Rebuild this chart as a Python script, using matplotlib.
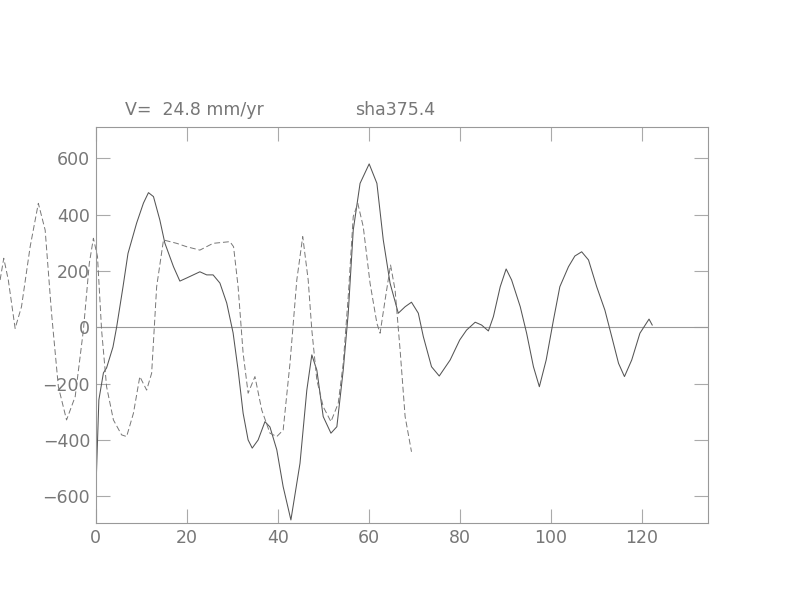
import numpy as np
import matplotlib.pyplot as plt

# solid profile (distance, value)
solid_x = [0, 0.7, 1.7, 2.4, 3.8, 4.6, 6.0, 7.1, 9.0, 10.5, 11.6, 12.7, 14.1, 15.2, 17.1,
           18.5, 20.0, 22.9, 24.4, 25.8, 27.3, 28.8, 30.2, 31.3, 32.4, 33.5, 34.4, 35.7,
           37.2, 38.3, 39.8, 41.2, 42.9, 44.9, 46.4, 47.5, 48.6, 50.0, 51.7, 53.0, 54.4,
           55.5, 56.6, 58.1, 60.1, 61.8, 63.2, 64.7, 66.5, 68.0, 69.4, 70.9, 72.0, 73.8,
           75.5, 77.9, 80.0, 81.5, 83.4, 84.8, 86.3, 87.4, 88.9, 90.2, 91.4, 93.3, 94.7,
           96.2, 97.5, 99.0, 100.6, 102.0, 103.9, 105.3, 106.8, 108.3, 110.1, 111.9,
           113.4, 114.9, 116.2, 117.8, 119.6, 121.6, 122.3]
solid_y = [-602, -258, -162, -144, -70, 0, 143, 262, 370, 441, 478, 464, 381, 299, 215,
           164, 175, 197, 186, 186, 157, 86, -20, -152, -305, -400, -429, -400,
           -335, -354, -435, -566, -684, -483, -223, -98, -152, -317, -376, -353, -152,
           50, 345, 511, 580, 511, 310, 156, 50, 73, 89, 50, -33, -140,
           -173, -116, -45, -10, 18, 8, -13, 38, 144, 207, 168, 73, -21,
           -140, -211, -116, 26, 144, 215, 253, 268, 239, 144, 61,
           -33, -128, -175, -116, -21, 29, 8]

# dashed profile
dash_x = [-21.0, -20.2, -19.2, -17.7, -16.3, -14.4, -12.6, -11.1, -9.7, -8.2, -6.4, -4.5,
          -2.7, -1.4, -0.5, 0.4, 1.3, 2.4, 3.9, 5.7, 6.8, 8.3, 9.7, 11.2, 12.3, 13.4,
          14.9, 17.8, 20.0, 22.9, 25.8, 29.5, 30.3, 31.3, 32.4, 33.5, 35.0, 36.5, 38.3,
          39.8, 41.2, 42.7, 44.2, 45.5, 46.7, 47.5, 48.6, 50.0, 51.7, 53.3, 54.4, 55.5,
          56.6, 57.6, 58.8, 60.3, 61.8, 62.5, 63.6, 64.8, 65.8, 66.9, 68.0, 69.4]
dash_y = [168, 245, 168, -4, 73, 286, 440, 345, 50, -211, -329, -246,
          -10, 227, 316, 251, -10, -211, -329, -382, -388, -305, -175, -223, -163, 144,
          310, 298, 286, 274, 298, 304, 286, 144, -92, -234, -175, -294, -376,
          -388, -365, -128, 168, 322, 168, -10, -187, -282, -335, -270, -128, 109,
          393, 440, 357, 156, 14, -21, 97, 221, 132, -81, -317, -442]

fig = plt.figure(figsize=(7.92, 6.12), dpi=100)
ax = fig.add_axes([0.1208, 0.1449, 0.7728, 0.6471])

ax.axhline(0, color='#999999', lw=0.8)
ax.plot(solid_x, solid_y, color='#555555', lw=0.75)
ax.plot(dash_x, dash_y, color='#777777', lw=0.7, dashes=(6, 3), clip_on=False)

ax.set_xlim(0, 134.5)
ax.set_ylim(-696, 710)
ax.set_xticks(np.arange(0, 121, 20))
ax.set_yticks(np.arange(-600, 601, 200))
ax.tick_params(direction='in', length=10, width=0.8, color='#aaaaaa',
               top=True, right=True, labelsize=12.5, labelcolor='#777777', pad=4)
for s in ax.spines.values():
    s.set_color('#999999')
    s.set_linewidth(0.8)

fig.text(125 / 792, 1 - 110 / 612, 'V=  24.8 mm/yr', fontsize=12.5, color='#777777', va='center')
fig.text(355 / 792, 1 - 110 / 612, 'sha375.4', fontsize=12.5, color='#777777', va='center')

fig.savefig('out.png', dpi=100)
